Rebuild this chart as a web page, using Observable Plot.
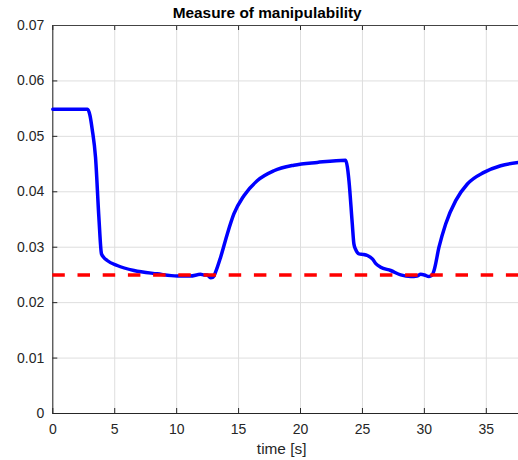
<!DOCTYPE html>
<html><head><meta charset="utf-8">
<script src="https://cdn.jsdelivr.net/npm/d3@7"></script>
<script src="https://cdn.jsdelivr.net/npm/@observablehq/plot@0.6"></script>
<style>body{margin:0;background:#fff;} svg{display:block}</style>
</head><body><div id="chart"></div>
<script>
const time  = [0, 2.8, 3.0, 3.18, 3.45, 3.72, 3.93, 4.1, 4.39, 5.2, 6.55, 8.43, 10.05, 11.1, 11.93, 12.2, 12.47, 12.74, 12.95, 13.14, 13.55, 14.09, 14.62, 15.43, 16.5, 17.85, 19.47, 21.35, 23.64, 23.78, 23.91, 24.18, 24.31, 24.45, 24.72, 25.1, 25.4, 25.8, 26.1, 26.47, 27.28, 28.09, 28.9, 29.4, 29.7, 30.0, 30.37, 30.6, 30.78, 31.18, 31.72, 32.53, 33.47, 34.81, 36.16, 37.6];
const manip = [0.0549, 0.0549, 0.0538, 0.0513, 0.0462, 0.0354, 0.0288, 0.0282, 0.0276, 0.0267, 0.0258, 0.0252, 0.0248, 0.0248, 0.0251, 0.0250, 0.0250, 0.0245, 0.0246, 0.0255, 0.0282, 0.0324, 0.0360, 0.0393, 0.0420, 0.0438, 0.0448, 0.0453, 0.0457, 0.0445, 0.0420, 0.0342, 0.0306, 0.0296, 0.0288, 0.0287, 0.0285, 0.0279, 0.0270, 0.0264, 0.0258, 0.0250, 0.0247, 0.0248, 0.0251, 0.0250, 0.0247, 0.0249, 0.0258, 0.0300, 0.0342, 0.0384, 0.0414, 0.0435, 0.0447, 0.0453];
const threshold = [0.025];
const xTicks = [0, 5, 10, 15, 20, 25, 30, 35];
const yTicks = [0, 0.01, 0.02, 0.03, 0.04, 0.05, 0.06, 0.07];
const titleText = ["Measure of manipulability"];
const xLabelText = ["time [s]"];

const data = time.map((t, i) => ({t, m: manip[i]}));
const W = 518, H = 460, mL = 52.3, mT = 25, mB = 47, mR = 0;
const fw = W - mL - mR, fh = H - mT - mB;
const axisColor = "#262626";

const plot = Plot.plot({
  width: W, height: H,
  marginLeft: mL, marginTop: mT, marginBottom: mB, marginRight: mR,
  style: {fontFamily: "'Liberation Sans', Arial, Helvetica, sans-serif", fontSize: "14px", color: axisColor, background: "#fff"},
  x: {domain: [0, 37.6]},
  y: {domain: [0, 0.07]},
  marks: [
    Plot.gridX(xTicks, {stroke: "#dedede", strokeOpacity: 1}),
    Plot.gridY(yTicks, {stroke: "#dedede", strokeOpacity: 1}),
    Plot.axisX(xTicks, {tickSize: 0, tickPadding: 10.5, label: null, fill: axisColor, fontSize: 14}),
    Plot.axisY(yTicks, {tickSize: 0, tickPadding: 8.5, label: null, fill: axisColor, fontSize: 14,
      tickFormat: d => d === 0 ? "0" : d.toFixed(2)}),
    Plot.tickX(xTicks, {x: d => d, insetTop: fh - 5, stroke: axisColor}),
    Plot.tickX(xTicks, {x: d => d, insetBottom: fh - 5, stroke: axisColor}),
    Plot.tickY(yTicks, {y: d => d, insetRight: fw - 5, stroke: axisColor}),
    Plot.ruleX([0], {stroke: axisColor}),
    Plot.ruleY([0], {stroke: axisColor}),
    Plot.ruleY([0.07], {stroke: "#444"}),
    Plot.line(data, {x: "t", y: "m", stroke: "#0000ff", strokeWidth: 3.5, curve: "monotone-x"}),
    Plot.ruleY(threshold, {stroke: "#ff0000", strokeWidth: 3.5, strokeDasharray: "12.5,12.7"}),
    Plot.text(titleText, {text: d => d, frameAnchor: "top", dy: -8, lineAnchor: "bottom", dx: -18.5, fontWeight: "bold", fontSize: 15.4, fill: "#000"}),
    Plot.text(xLabelText, {text: d => d, frameAnchor: "bottom", dy: 40, dx: -4, fontSize: 15.4, fill: axisColor})
  ]
});
document.getElementById("chart").appendChild(plot);
</script>
</body></html>
